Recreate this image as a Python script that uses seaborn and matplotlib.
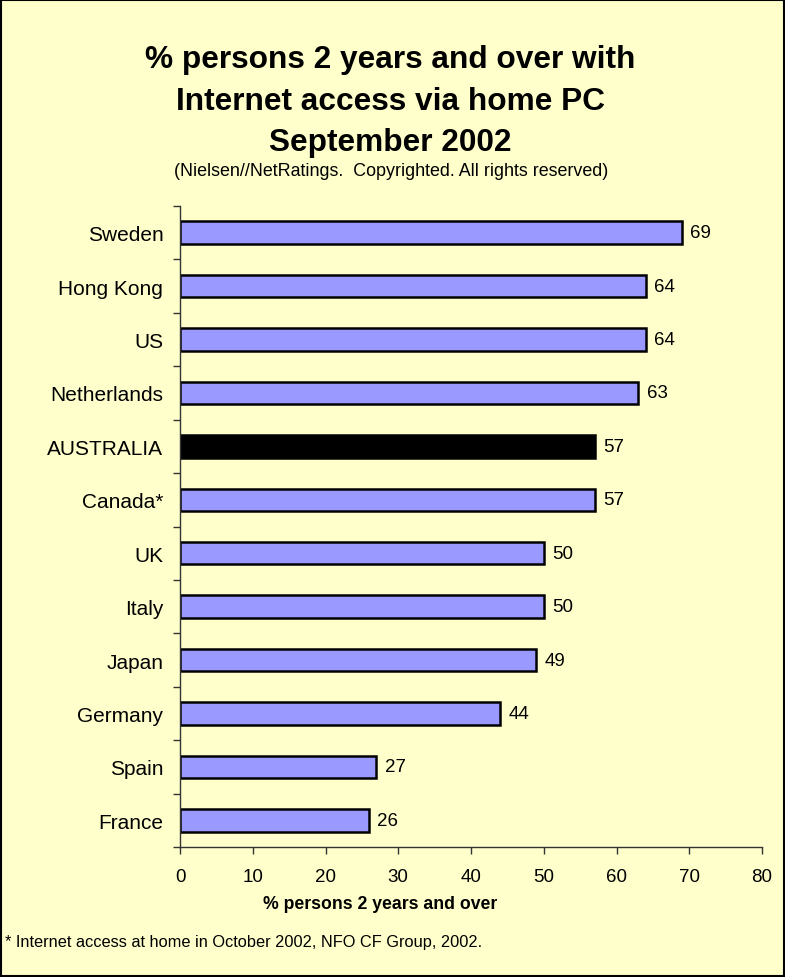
import numpy as np
import matplotlib.pyplot as plt
import pandas as pd
import seaborn as sns
from matplotlib.patches import Rectangle

sns.set_style("white")
plt.rcParams['font.family'] = ['Liberation Sans', 'DejaVu Sans']
plt.rcParams['text.color'] = 'black'
plt.rcParams['xtick.color'] = 'black'
plt.rcParams['ytick.color'] = 'black'

# Data
countries = ['Sweden', 'Hong Kong', 'US', 'Netherlands', 'AUSTRALIA', 'Canada*',
             'UK', 'Italy', 'Japan', 'Germany', 'Spain', 'France']
values = [69, 64, 64, 63, 57, 57, 50, 50, 49, 44, 27, 26]
highlight = 'AUSTRALIA'
x_ticks = [0, 10, 20, 30, 40, 50, 60, 70, 80]

bg = '#FFFFCC'
bar_col = '#9999FF'

df = pd.DataFrame({'country': countries, 'value': values})
palette = {c: ('black' if c == highlight else bar_col) for c in countries}

fig = plt.figure(figsize=(7.85, 9.78), dpi=100, facecolor=bg)
ax = fig.add_axes([180/785, 1 - 848/978, 582/785, 641/978])
ax.set_facecolor(bg)

sns.barplot(data=df, x='value', y='country', hue='country', palette=palette,
            legend=False, width=0.42, edgecolor='black', linewidth=1.8,
            saturation=1, ax=ax)

# value labels
for cont in ax.containers:
    ax.bar_label(cont, fmt='%d', padding=6, fontsize=13.5, color='black')

ax.set_xlim(0, 80)
ax.set_ylim(len(countries) - 0.5, -0.5)
ax.set_xticks(x_ticks)
ax.tick_params(axis='x', which='major', length=5, width=1, direction='out',
               labelsize=13.5, pad=10, bottom=True, color='#333333')

# ticks between categories, labels on the centres
ax.set_yticks(np.arange(-0.5, len(countries), 1))
ax.set_yticklabels([])
ax.set_yticks(np.arange(len(countries)), minor=True)
ax.set_yticklabels(countries, minor=True)
ax.tick_params(axis='y', which='major', length=5, width=1, direction='out',
               left=True, color='#333333')
ax.tick_params(axis='y', which='minor', length=0, labelsize=15, pad=12)

ax.set_xlabel('')
ax.set_ylabel('')
for s in ['top', 'right']:
    ax.spines[s].set_visible(False)
for s in ['left', 'bottom']:
    ax.spines[s].set_color('#333333')
    ax.spines[s].set_linewidth(1)

# titles
fig.text(0.497, 1 - 60/978, '% persons 2 years and over with', ha='center', va='center',
         fontsize=22.8, fontweight='bold')
fig.text(0.497, 1 - 102/978, 'Internet access via home PC', ha='center', va='center',
         fontsize=22.8, fontweight='bold')
fig.text(0.497, 1 - 143/978, 'September 2002', ha='center', va='center',
         fontsize=22.8, fontweight='bold')
fig.text(0.498, 1 - 172/978, '(Nielsen//NetRatings.  Copyrighted. All rights reserved)',
         ha='center', va='center', fontsize=12.9)

fig.text(380/785, 1 - 905/978, '% persons 2 years and over', ha='center', va='center',
         fontsize=12.7, fontweight='bold')
fig.text(5/785, 1 - 943/978, '* Internet access at home in October 2002, NFO CF Group, 2002.',
         ha='left', va='center', fontsize=11.8)

# frame around the whole picture
fig.patches.append(Rectangle((0.001, 0.001), 0.998, 0.998, transform=fig.transFigure,
                             fill=False, edgecolor='black', linewidth=1.5))

fig.savefig('out.png', dpi=100, facecolor=bg)
